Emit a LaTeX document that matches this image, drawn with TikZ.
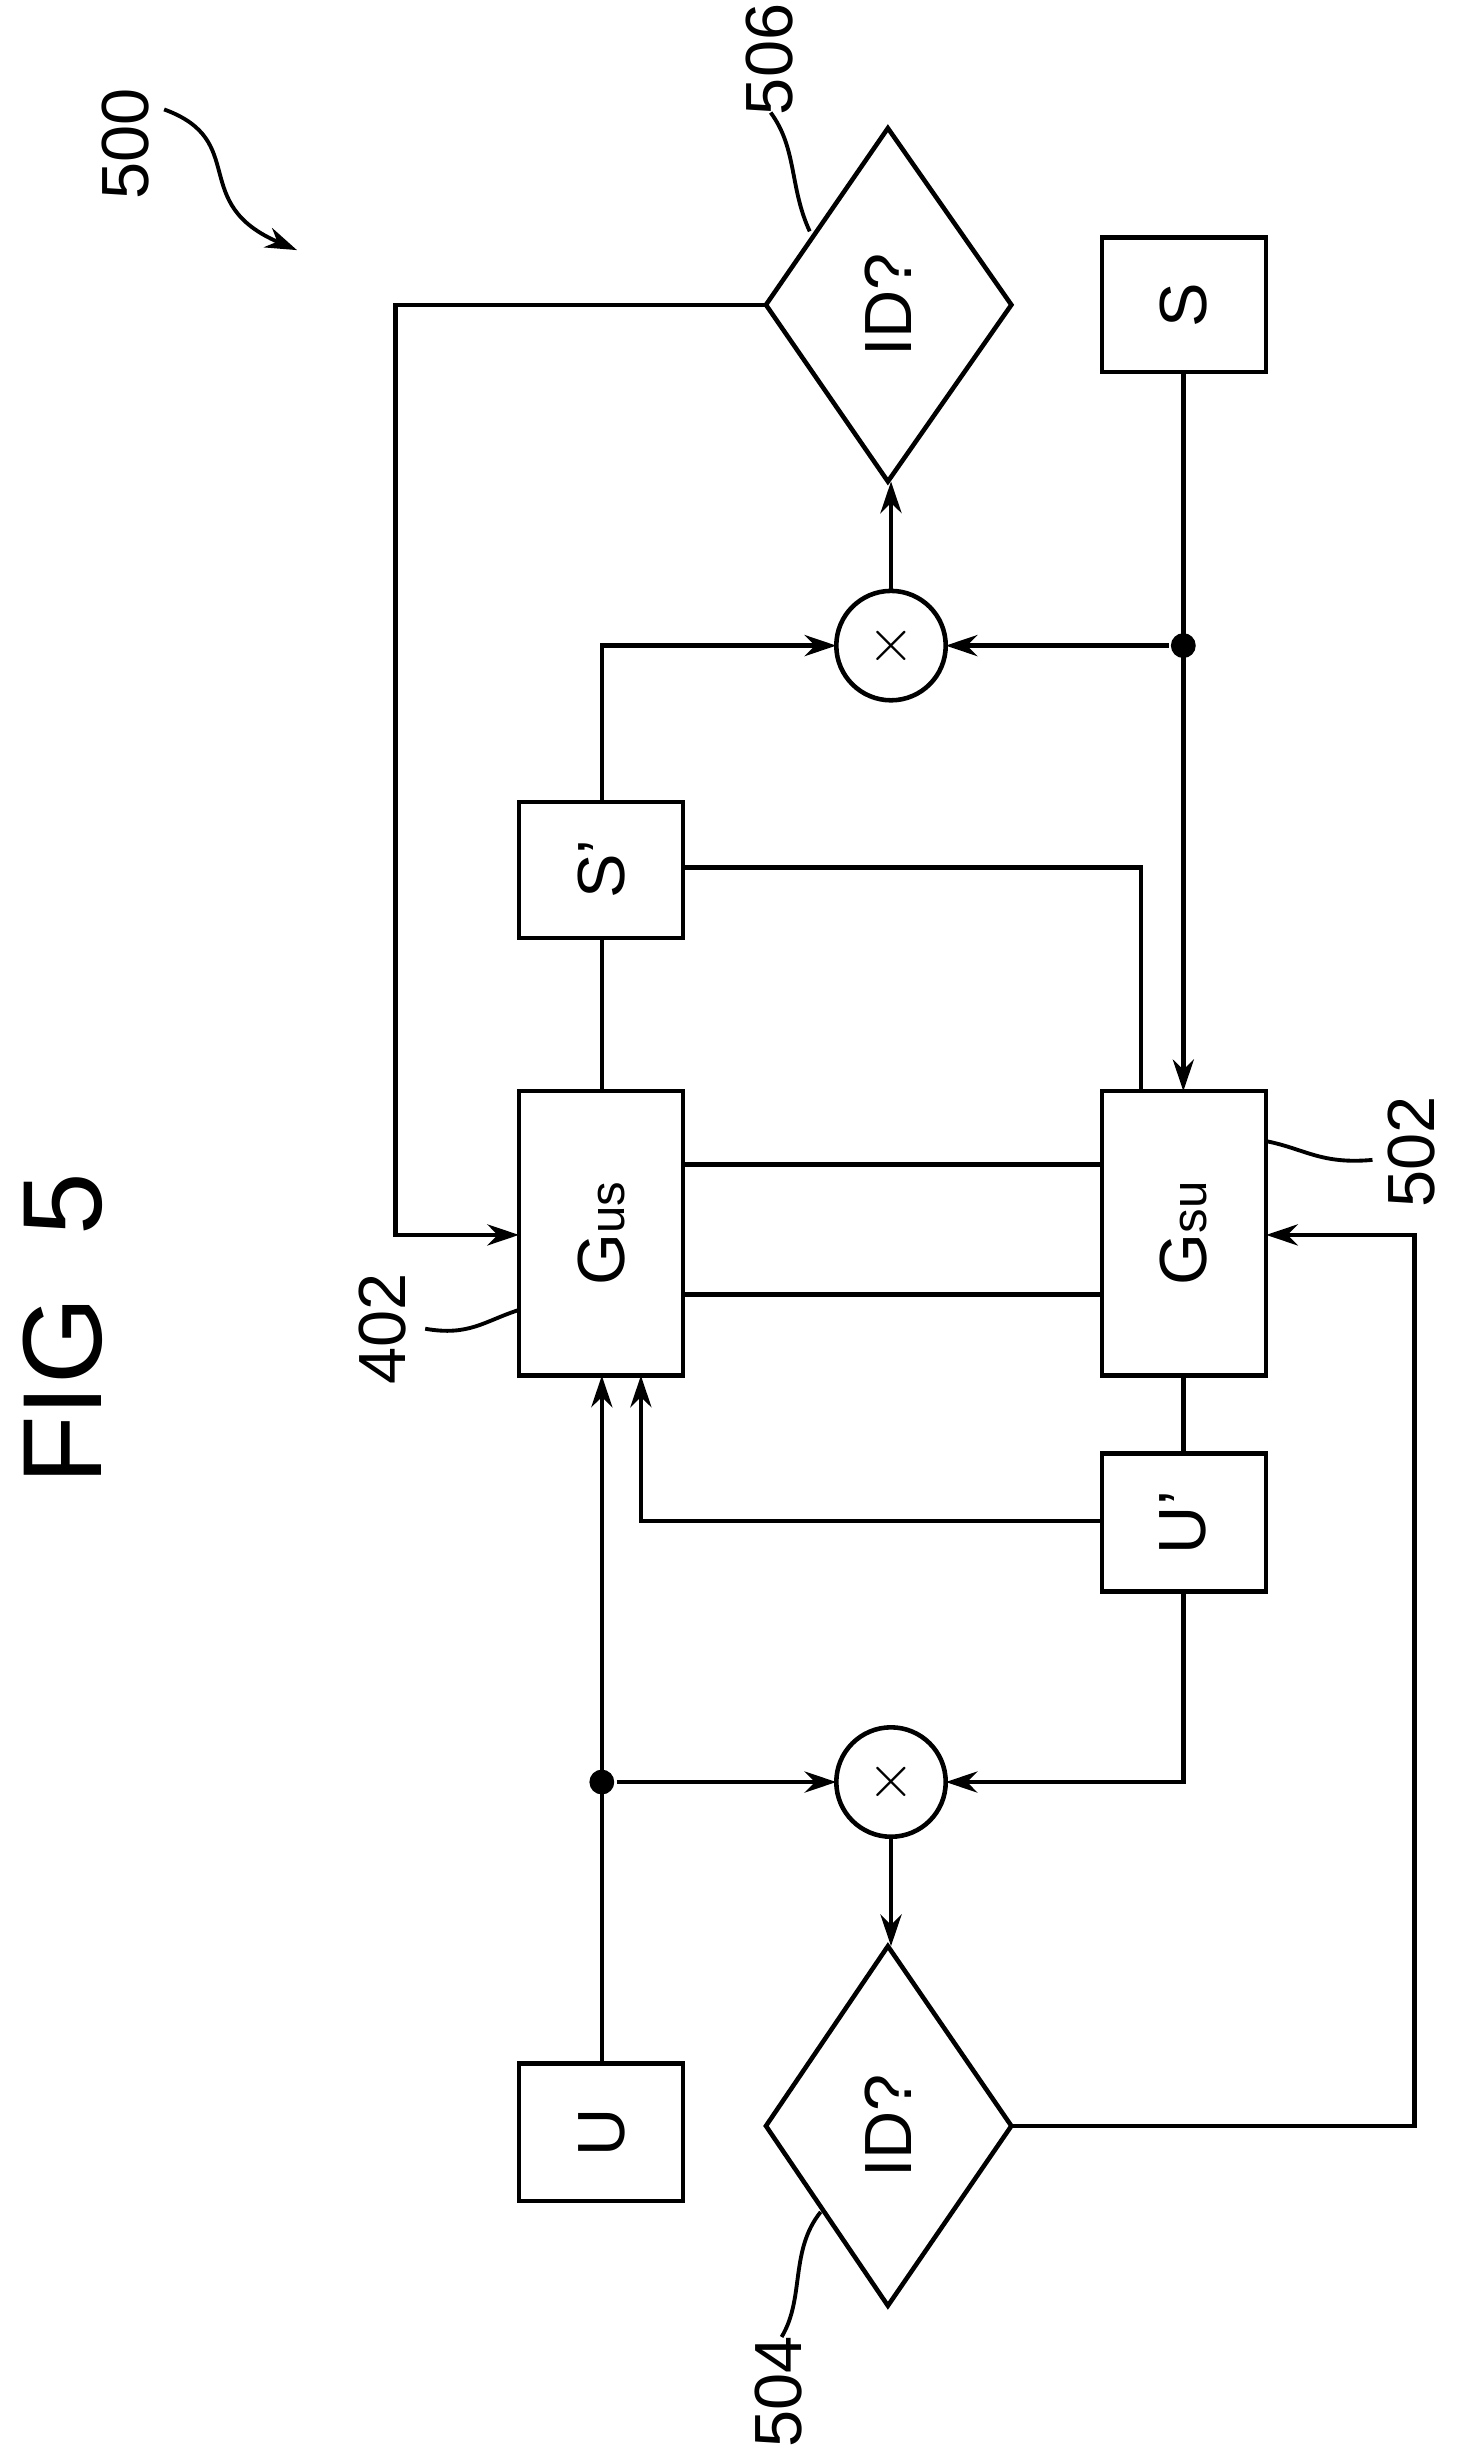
\documentclass[tikz,border=0pt]{standalone}
\usepackage{fontspec}
\setmainfont{Liberation Sans}
\usetikzlibrary{arrows.meta,shapes.geometric}
\begin{document}
\begin{tikzpicture}[x=0.015636cm,y=-0.015636cm,line width=1.3pt,
  arr/.style={-{Stealth[length=9pt,width=6pt]}},
  lbl/.style={rotate=90,font=\fontsize{19}{21}\selectfont},
  dot/.style={circle,fill,inner sep=2.5pt}]
\useasboundingbox (0,0) rectangle (935,1575);
% boxes
\draw (332,698) rectangle (437,880); \node[lbl] (gus) at (385,789) {G\fontsize{14}{16}\selectfont us};
\draw (705,698) rectangle (810,880); \node[lbl] (gsu) at (757,789) {G\fontsize{14}{16}\selectfont su};
\draw (332,513) rectangle (437,600); \node[lbl] (sp) at (385,556) {S'};
\draw (705,930) rectangle (810,1018); \node[lbl] (up) at (757,974) {U'};
\draw (705,152) rectangle (810,238); \node[lbl] (s) at (757,195) {S};
\draw (332,1320) rectangle (437,1408); \node[lbl] (u) at (385,1364) {U};
% multipliers
\draw (570,413) circle (35); \node[lbl] (m1) at (570,413) {$\times$};
\draw (570,1140) circle (35); \node[lbl] (m2) at (570,1140) {$\times$};
% diamonds
\draw (490,195)--(568,82)--(647,195)--(568,308)--cycle; \node[lbl] (d1) at (568,195) {ID?};
\draw (490,1360)--(568,1245)--(647,1360)--(568,1475)--cycle; \node[lbl] (d2) at (568,1360) {ID?};
% connectors
\draw[arr] (490,195) -- (253,195) -- (253,790) -- (332,790);
\draw[arr] (385,513) -- (385,413) -- (535,413);
\draw[arr] (570,378) -- (570,308);
\draw[arr] (757,238) -- (757,698);
\node[dot] (j1) at (757,413) {};
\draw[arr] (j1) -- (605,413);
\draw (437,555) -- (730,555) -- (730,698);
\draw (437,745) -- (705,745);
\draw (437,828) -- (705,828);
\draw (385,698) -- (385,600);
\draw (757,880) -- (757,930);
\draw[arr] (705,973) -- (410,973) -- (410,880);
\draw[arr] (385,1320) -- (385,880);
\node[dot] (j2) at (385,1140) {};
\draw[arr] (j2) -- (535,1140);
\draw[arr] (757,1018) -- (757,1140) -- (605,1140);
\draw[arr] (570,1175) -- (570,1245);
\draw[arr] (647,1360) -- (905,1360) -- (905,790) -- (810,790);
% labels
\node[rotate=90,font=\fontsize{32}{36}\selectfont] (fig) at (40,850) {FIG\ \ 5};
\node[lbl] (l500) at (80,92) {500};
\draw[arr,line width=1.1pt] (105,70) .. controls (160,90) and (120,130) .. (190,160);
\node[lbl] (l506) at (492,38) {506};
\draw[line width=1.1pt] (518,148) .. controls (505,120) and (510,95) .. (493,72);
\node[lbl] (l402) at (245,850) {402};
\draw[line width=1.1pt] (332,838) .. controls (310,845) and (300,855) .. (272,850);
\node[lbl] (l502) at (903,737) {502};
\draw[line width=1.1pt] (810,730) .. controls (835,735) and (845,745) .. (878,742);
\node[lbl] (l504) at (498,1530) {504};
\draw[line width=1.1pt] (525,1415) .. controls (505,1440) and (515,1470) .. (500,1495);
\end{tikzpicture}
\end{document}
